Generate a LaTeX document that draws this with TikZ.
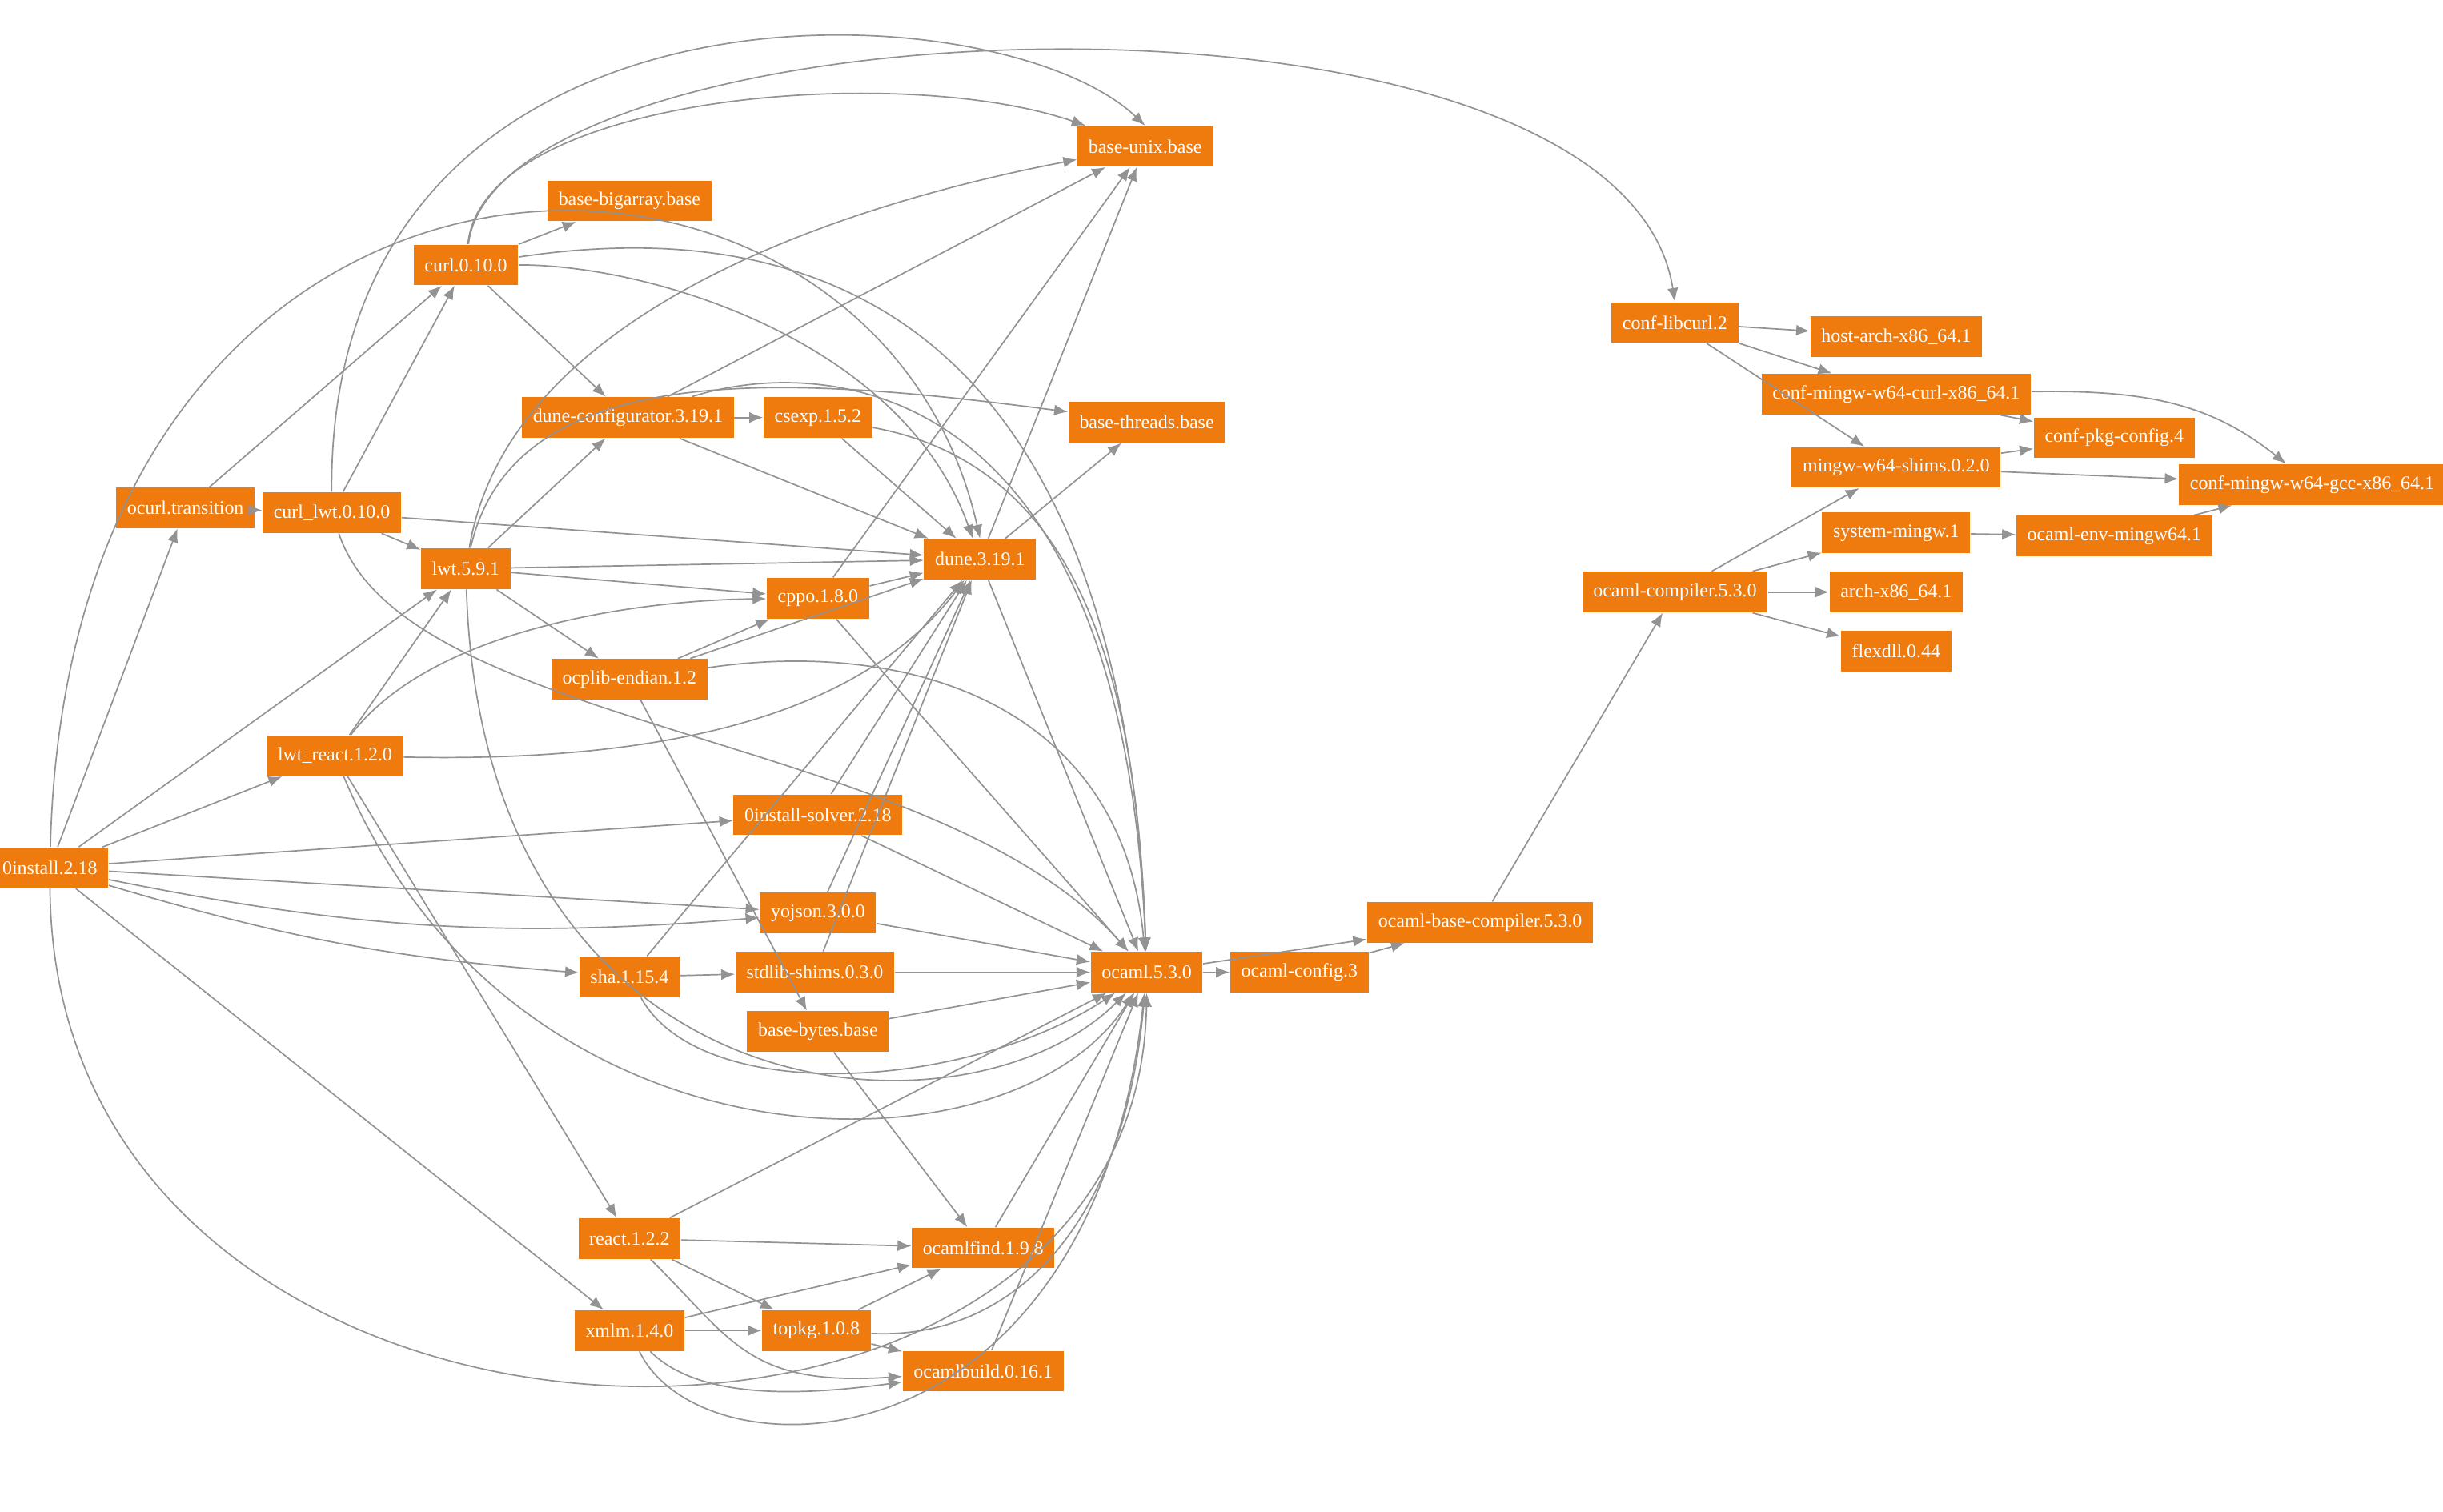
\documentclass[tikz,border=0pt]{standalone}
\usepackage{fontspec}
\setmainfont{Liberation Serif}
\usetikzlibrary{arrows.meta}
\definecolor{pkgorange}{RGB}{239,122,14}
\tikzset{
  pkg/.style={fill=pkgorange, text=white, font=\fontsize{7}{8}\selectfont, inner xsep=4pt, minimum height=0.52cm},
  dep/.style={draw=gray!85, -{Latex[length=5pt,width=4pt]}, line width=0.5pt},
}
\begin{document}
\begin{tikzpicture}[x=0.02cm, y=-0.02cm]
    \useasboundingbox (0,0) rectangle (1568,970);

    \node[pkg] (inst) at (32,557) {0install.2.18};
    \node[pkg] (ocurltr) at (119,326) {ocurl.transition};
    \node[pkg] (curllwt) at (213,329) {curl\_lwt.0.10.0};
    \node[pkg] (curl) at (299,170) {curl.0.10.0};
    \node[pkg] (lwt) at (299,365) {lwt.5.9.1};
    \node[pkg] (lwtreact) at (215,485) {lwt\_react.1.2.0};
    \node[pkg] (bigarray) at (404,129) {base-bigarray.base};
    \node[pkg] (unix) at (735,94) {base-unix.base};
    \node[pkg] (duneconf) at (403,268) {dune-configurator.3.19.1};
    \node[pkg] (csexp) at (525,268) {csexp.1.5.2};
    \node[pkg] (threads) at (736,271) {base-threads.base};
    \node[pkg] (dune) at (629,359) {dune.3.19.1};
    \node[pkg] (cppo) at (525,384) {cppo.1.8.0};
    \node[pkg] (ocplib) at (404,436) {ocplib-endian.1.2};
    \node[pkg] (solver) at (525,523) {0install-solver.2.18};
    \node[pkg] (yojson) at (525,586) {yojson.3.0.0};
    \node[pkg] (sha) at (404,627) {sha.1.15.4};
    \node[pkg] (shims) at (523,624) {stdlib-shims.0.3.0};
    \node[pkg] (bytes) at (525,662) {base-bytes.base};
    \node[pkg] (ocaml) at (736,624) {ocaml.5.3.0};
    \node[pkg] (oconfig) at (834,624) {ocaml-config.3};
    \node[pkg] (obase) at (950,592) {ocaml-base-compiler.5.3.0};
    \node[pkg] (react) at (404,795) {react.1.2.2};
    \node[pkg] (ocamlfind) at (631,801) {ocamlfind.1.9.8};
    \node[pkg] (xmlm) at (404,854) {xmlm.1.4.0};
    \node[pkg] (topkg) at (524,854) {topkg.1.0.8};
    \node[pkg] (ocamlbuild) at (631,880) {ocamlbuild.0.16.1};
    \node[pkg] (libcurl) at (1075,207) {conf-libcurl.2};
    \node[pkg] (hostarch) at (1217,216) {host-arch-x86\_64.1};
    \node[pkg] (mwcurl) at (1217,253) {conf-mingw-w64-curl-x86\_64.1};
    \node[pkg] (pkgconf) at (1357,281) {conf-pkg-config.4};
    \node[pkg] (mwshims) at (1217,300) {mingw-w64-shims.0.2.0};
    \node[pkg] (mwgcc) at (1484,311) {conf-mingw-w64-gcc-x86\_64.1};
    \node[pkg] (sysmingw) at (1217,342) {system-mingw.1};
    \node[pkg] (envmingw) at (1357,344) {ocaml-env-mingw64.1};
    \node[pkg] (ocomp) at (1075,380) {ocaml-compiler.5.3.0};
    \node[pkg] (arch) at (1217,380) {arch-x86\_64.1};
    \node[pkg] (flexdll) at (1217,418) {flexdll.0.44};

    % 0install
    \foreach \t in {ocurltr,lwtreact,lwt,solver,yojson,xmlm} \draw[dep] (inst) -- (\t);
    \draw[dep] (inst) to[bend right=8] (yojson);
    \draw[dep] (inst) to[bend right=6] (sha);
    \draw[dep] (inst) .. controls (35,975) and (730,990) .. (ocaml.south);
    \draw[dep] (inst) .. controls (45,40) and (560,40) .. (dune.north);
    % curl side
    \draw[dep] (ocurltr) -- (curllwt);
    \draw[dep] (ocurltr) -- (curl);
    \draw[dep] (curllwt) -- (curl);
    \draw[dep] (curllwt) -- (lwt);
    \draw[dep] (curllwt) -- (dune);
    \draw[dep] (curllwt) .. controls (260,470) and (600,470) .. (ocaml);
    \draw[dep] (curllwt) .. controls (210,-30) and (640,-10) .. (unix.north);
    \draw[dep] (curl) -- (bigarray);
    \draw[dep] (curl) .. controls (310,60) and (580,40) .. (unix);
    \draw[dep] (curl) .. controls (320,0) and (1040,-30) .. (libcurl.north);
    \draw[dep] (curl) -- (duneconf);
    \draw[dep] (curl) .. controls (420,170) and (580,220) .. (dune);
    \draw[dep] (curl) .. controls (500,140) and (720,180) .. (ocaml);
    % lwt
    \draw[dep] (lwt) .. controls (330,180) and (600,120) .. (unix);
    \draw[dep] (lwt) .. controls (330,230) and (500,240) .. (threads);
    \draw[dep] (lwt) -- (duneconf);
    \draw[dep] (lwt) -- (dune);
    \draw[dep] (lwt) -- (cppo);
    \draw[dep] (lwt) -- (ocplib);
    \draw[dep] (lwt) .. controls (310,720) and (620,740) .. (ocaml);
    \draw[dep] (lwtreact) -- (lwt);
    \draw[dep] (lwtreact) .. controls (280,400) and (420,385) .. (cppo);
    \draw[dep] (lwtreact) .. controls (450,490) and (560,450) .. (dune);
    \draw[dep] (lwtreact) -- (react);
    \draw[dep] (lwtreact) .. controls (330,760) and (650,760) .. (ocaml);
    % dune family
    \draw[dep] (duneconf) -- (csexp);
    \draw[dep] (duneconf) -- (unix);
    \draw[dep] (duneconf) -- (dune);
    \draw[dep] (duneconf) .. controls (520,230) and (720,230) .. (ocaml);
    \draw[dep] (csexp) -- (dune);
    \draw[dep] (csexp) .. controls (700,300) and (730,450) .. (ocaml);
    \draw[dep] (dune) -- (unix);
    \draw[dep] (dune) -- (threads);
    \draw[dep] (dune) -- (ocaml);
    \draw[dep] (cppo) -- (unix);
    \draw[dep] (cppo) -- (dune);
    \draw[dep] (cppo) -- (ocaml);
    \draw[dep] (ocplib) -- (cppo);
    \draw[dep] (ocplib) -- (dune);
    \draw[dep] (ocplib) .. controls (580,410) and (720,450) .. (ocaml);
    \draw[dep] (ocplib) -- (bytes);
    \draw[dep] (solver) -- (dune);
    \draw[dep] (solver) -- (ocaml);
    \draw[dep] (yojson) -- (dune);
    \draw[dep] (yojson) -- (ocaml);
    \draw[dep] (sha) -- (shims);
    \draw[dep] (sha) -- (dune);
    \draw[dep] (sha) .. controls (450,710) and (620,700) .. (ocaml);
    \draw[dep] (shims) -- (dune);
    \draw[dep] (shims) -- (ocaml);
    \draw[dep] (bytes) -- (ocaml);
    \draw[dep] (bytes) -- (ocamlfind);
    % compiler chain
    \draw[dep] (ocaml) -- (oconfig);
    \draw[dep] (ocaml) -- (obase);
    \draw[dep] (oconfig) -- (obase);
    \draw[dep] (obase) -- (ocomp);
    \foreach \t in {mwshims,sysmingw,arch,flexdll} \draw[dep] (ocomp) -- (\t);
    % react / xmlm
    \draw[dep] (react) -- (ocamlfind);
    \draw[dep] (react) -- (topkg);
    \draw[dep] (react) .. controls (470,860) and (480,890) .. (ocamlbuild);
    \draw[dep] (react) -- (ocaml);
    \draw[dep] (xmlm) -- (ocamlfind);
    \draw[dep] (xmlm) -- (topkg);
    \draw[dep] (xmlm) .. controls (450,900) and (520,895) .. (ocamlbuild);
    \draw[dep] (xmlm) .. controls (450,950) and (700,950) .. (ocaml);
    \draw[dep] (topkg) -- (ocamlfind);
    \draw[dep] (topkg) -- (ocamlbuild);
    \draw[dep] (topkg) .. controls (640,860) and (720,800) .. (ocaml);
    \draw[dep] (ocamlfind) -- (ocaml);
    \draw[dep] (ocamlbuild) -- (ocaml);
    % mingw side
    \draw[dep] (libcurl) -- (hostarch);
    \draw[dep] (libcurl) -- (mwcurl);
    \draw[dep] (libcurl) -- (mwshims);
    \draw[dep] (mwcurl) -- (pkgconf);
    \draw[dep] (mwcurl) .. controls (1380,250) and (1420,260) .. (mwgcc);
    \draw[dep] (mwshims) -- (pkgconf);
    \draw[dep] (mwshims) -- (mwgcc);
    \draw[dep] (sysmingw) -- (envmingw);
    \draw[dep] (envmingw) -- (mwgcc);
\end{tikzpicture}
\end{document}
